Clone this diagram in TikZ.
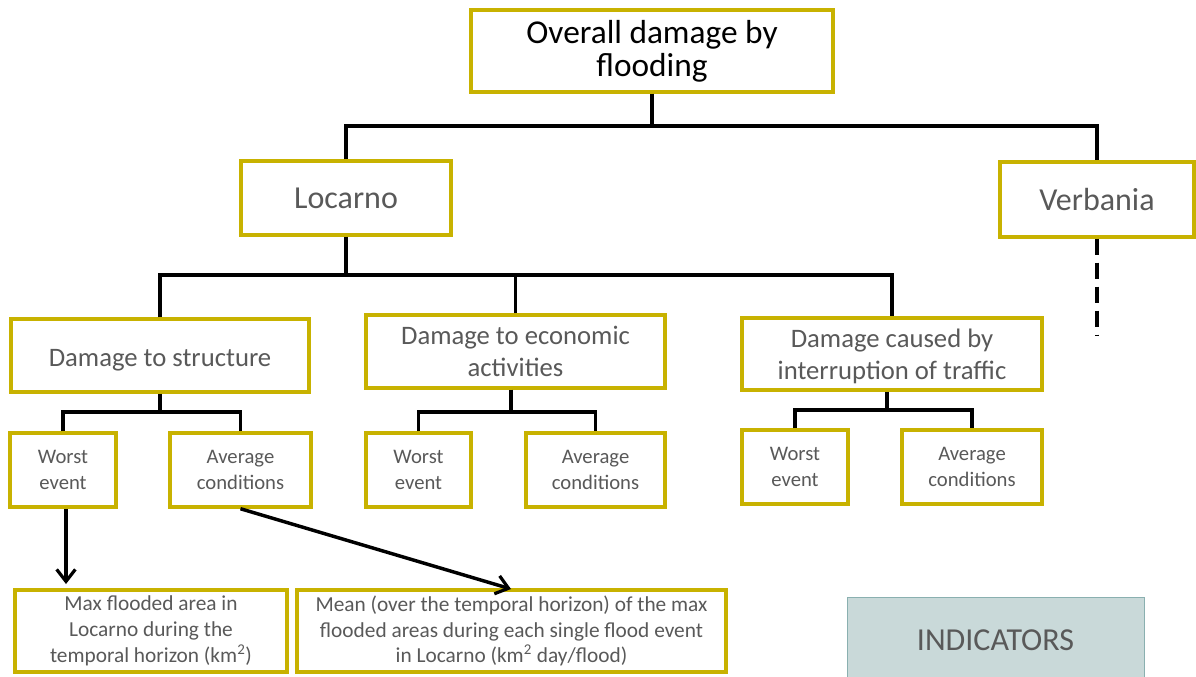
\documentclass[tikz,border=0pt]{standalone}
\usepackage{fontspec}
\setmainfont{Carlito}
\usetikzlibrary{arrows.meta}
\definecolor{ybord}{RGB}{200,178,0}
\definecolor{txtgray}{RGB}{89,89,89}
\definecolor{indfill}{RGB}{201,217,217}
\definecolor{indbord}{RGB}{138,176,176}
\tikzset{
  ybox/.style 2 args={draw=ybord, line width=2.6pt, fill=white, inner sep=0pt,
    align=center, text=txtgray, minimum width=#1*0.75pt, minimum height=#2*0.75pt},
  fsA/.style={font=\fontsize{25}{24.5}\selectfont},
  fsB/.style={font=\fontsize{24}{24}\selectfont},
  fsC/.style={font=\fontsize{20}{24}\selectfont},
  fsD/.style={font=\fontsize{15.5}{19}\selectfont},
  fsE/.style={font=\fontsize{16}{19.3}\selectfont},
  conn/.style={line width=2.6pt, black},
  arr/.style={line width=2.6pt, black, -{Straight Barb[length=9pt,width=14pt,line width=2.4pt]}},
}
\begin{document}
\begin{tikzpicture}[x=0.75pt,y=-0.75pt]
\useasboundingbox (0,0) rectangle (1196,677);
% top
\node[ybox={362}{82}, fsA, text=black] (top) at (652,51) {Overall damage by\\flooding};
\node[ybox={210}{74}, fsB] (loc) at (346,198) {Locarno};
\node[ybox={194}{75}, fsB] (ver) at (1097,199.5) {Verbania};
% level 2
\node[ybox={298}{73}, fsC] (ds) at (160,355.5) {\raisebox{-3.5pt}[\height][\depth]{Damage to structure}};
\node[ybox={299}{73}, fsC] (de) at (515.5,351.5) {Damage to economic\\activities};
\node[ybox={300}{72}, fsC] (dt) at (892,354) {\raisebox{-2pt}[\height][\depth]{Damage caused by}\\\raisebox{-2pt}[\height][\depth]{interruption\ of traffic}};
% level 3
\node[ybox={106}{74}, fsD] (w1) at (63,470) {Worst\\event};
\node[ybox={141}{74}, fsD] (a1) at (240.5,470) {Average\\conditions};
\node[ybox={105}{74}, fsD] (w2) at (418.5,470) {Worst\\event};
\node[ybox={139}{74}, fsD] (a2) at (595.5,470) {Average\\conditions};
\node[ybox={106}{74}, fsD] (w3) at (795,467) {Worst\\event};
\node[ybox={140}{74}, fsD] (a3) at (972,467) {Average\\conditions};
% indicators
\node[ybox={272}{82}, fsE] (i1) at (151,631) {Max flooded area in\\Locarno during the\\temporal horizon (km\textsuperscript{2})};
\node[ybox={429}{82}, fsE] (i2) at (511.5,631) {Mean (over the temporal horizon) of the max\\flooded areas during each single flood event\\in Locarno (km\textsuperscript{2} day/flood)};
\node[draw=indbord, line width=1pt, fill=indfill, minimum width=297*0.75pt, minimum height=100*0.75pt, inner sep=0pt, anchor=north west] (ind) at (847,597) {};
\node[text=txtgray, fsB] (indt) at (995.5,640) {INDICATORS};
% connectors
\coordinate (j0) at (652,126);
\draw[conn] (top.south) -- (j0);
\draw[conn] (loc.north) |- (j0) -| (ver.north);
\coordinate (j1) at (346,275);
\draw[conn] (loc.south) -- (j1);
\draw[conn] (ds.north) |- (j1);
\draw[conn] (j1) -| (dt.north);
\draw[conn] (de.north) -- (de.north |- j1);
\coordinate (j2) at (160,412);
\draw[conn] (ds.south) -- (j2);
\draw[conn] (w1.north) |- (j2) -| (a1.north);
\coordinate (j3) at (511,412);
\draw[conn] (j3 |- de.south) -- (j3);
\draw[conn] (w2.north) |- (j3) -| (a2.north);
\coordinate (j4) at (887,410);
\draw[conn] (j4 |- dt.south) -- (j4);
\draw[conn] (w3.north) |- (j4) -| (a3.north);
\coordinate (vd) at (1097,335);
\draw[conn, dash pattern=on 12pt off 6pt] (ver.south) -- (vd);
% arrows
\coordinate (t1) at (66,584);
\coordinate (t2) at (511,589);
\draw[arr] (w1.south -| t1) -- (t1);
\draw[arr] (a1.south) -- (t2);
\end{tikzpicture}
\end{document}
